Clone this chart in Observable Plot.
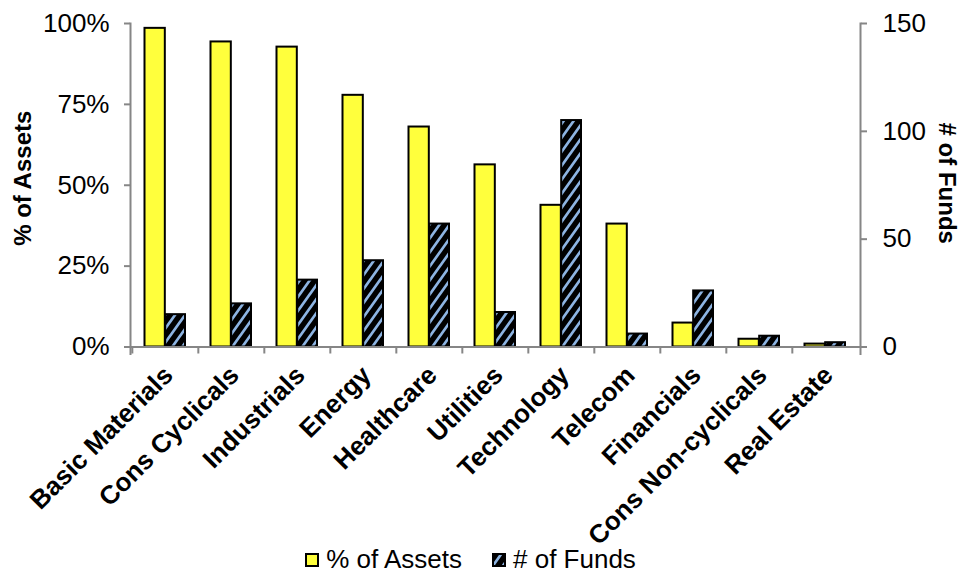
<!DOCTYPE html>
<html>
<head>
<meta charset="utf-8">
<script src="https://cdn.jsdelivr.net/npm/d3@7"></script>
<script src="https://cdn.jsdelivr.net/npm/@observablehq/plot@0.6"></script>
<style>
  html, body { margin: 0; padding: 0; background: white; }
  body { width: 961px; height: 573px; overflow: hidden; font-family: "Liberation Sans", Arial, sans-serif; }
  #chart svg { overflow: visible; display: block; }
  #legend { height: 33px; display: flex; justify-content: center; align-items: center; font-size: 26px; color: #000; padding-right: 20px; padding-top: 3px; position: relative; z-index: 2; }
  .item { display: flex; align-items: center; }
  .item svg { margin-right: 7px; }
  .item + .item { margin-left: 30px; }
</style>
</head>
<body>
<svg width="0" height="0" style="position:absolute">
  <defs>
    <pattern id="hatch" patternUnits="userSpaceOnUse" width="10" height="14">
      <rect width="10" height="14" fill="#000"/>
      <path d="M-10,28 L20,-14 M-10,42 L20,0 M-10,14 L20,-28" stroke="#8DB4E2" stroke-width="2.7"/>
    </pattern>
  </defs>
</svg>
<div id="chart"></div>
<div id="legend"></div>
<script>
const categories = ["Basic Materials", "Cons Cyclicals", "Industrials", "Energy", "Healthcare", "Utilities", "Technology", "Telecom", "Financials", "Cons Non-cyclicals", "Real Estate"];
const assetsPct = [98.5, 94.3, 92.7, 77.8, 68.0, 56.3, 43.8, 38.0, 7.4, 2.4, 0.9];
const fundsCount = [15, 20, 31, 40, 57, 16, 105, 6, 26, 5, 2];
const pctTicks = [0, 25, 50, 75, 100];
const fundTicks = [0, 50, 100, 150];
const fundsMax = 150;
const seriesNames = ["% of Assets", "# of Funds"];

const data = categories.map((c, i) => ({category: c, assets: assetsPct[i], funds: fundsCount[i]}));

const H = 540;
const band = 730 / categories.length;
const chart = Plot.plot({
  width: 961,
  height: H,
  marginLeft: 130,
  marginRight: 101,
  marginTop: 23,
  marginBottom: H - 346.5,
  style: {fontFamily: "'Liberation Sans', Arial, sans-serif", background: "white", color: "#000", overflow: "visible"},
  x: {domain: categories, padding: 0, axis: null},
  y: {domain: [0, 100], axis: null},
  marks: [
    Plot.barY(data, {x: "category", y: "assets", fill: "#FFFF3C", stroke: "#000", strokeWidth: 2, insetLeft: 12.5, insetRight: band / 2}),
    Plot.barY(data, {x: "category", y: d => d.funds / fundsMax * 100, fill: "url(#hatch)", stroke: "#000", strokeWidth: 2, insetLeft: band / 2, insetRight: 13}),
    Plot.ruleY([0], {stroke: "#868686", strokeWidth: 2}),
    Plot.frame({anchor: "left", stroke: "#868686", strokeWidth: 2, insetBottom: -7}),
    Plot.frame({anchor: "right", stroke: "#868686", strokeWidth: 2, insetBottom: -7}),
    Plot.axisX({anchor: "bottom", tickSize: 7, tickFormat: () => "", dx: -band / 2, stroke: "#868686", strokeWidth: 2, label: null}),
    Plot.axisX({anchor: "bottom", tickSize: 0, tickRotate: -45, tickPadding: 24, dx: 3, fontSize: 26, fontWeight: "bold", label: null}),
    Plot.axisY({anchor: "left", ticks: pctTicks, tickFormat: d => d + "%", tickSize: 6, tickPadding: 15, fontSize: 26, stroke: "#868686", strokeWidth: 2, label: null}),
    Plot.axisY({anchor: "right", ticks: fundTicks.map(v => v / fundsMax * 100), tickFormat: d => String(Math.round(d * fundsMax / 100)), tickSize: 6, tickPadding: 16, fontSize: 26, stroke: "#868686", strokeWidth: 2, label: null}),
    Plot.text([seriesNames[0]], {frameAnchor: "left", textAnchor: "middle", text: d => d, rotate: -90, dx: -107, dy: -7, fontSize: 24, fontWeight: "bold"}),
    Plot.text([seriesNames[1]], {frameAnchor: "right", textAnchor: "middle", text: d => d, rotate: 90, dx: 86, dy: -2, fontSize: 24, fontWeight: "bold"})
  ]
});
document.getElementById("chart").appendChild(chart);

const legend = document.getElementById("legend");
const fills = ["#FFFF3C", "url(#hatch)"];
seriesNames.forEach((name, i) => {
  const item = document.createElement("div");
  item.className = "item";
  item.innerHTML = `<svg width="14" height="14"><rect x="1" y="1" width="12" height="12" fill="${fills[i]}" stroke="#000" stroke-width="2"/></svg><span>${name}</span>`;
  legend.appendChild(item);
});
</script>
</body>
</html>
